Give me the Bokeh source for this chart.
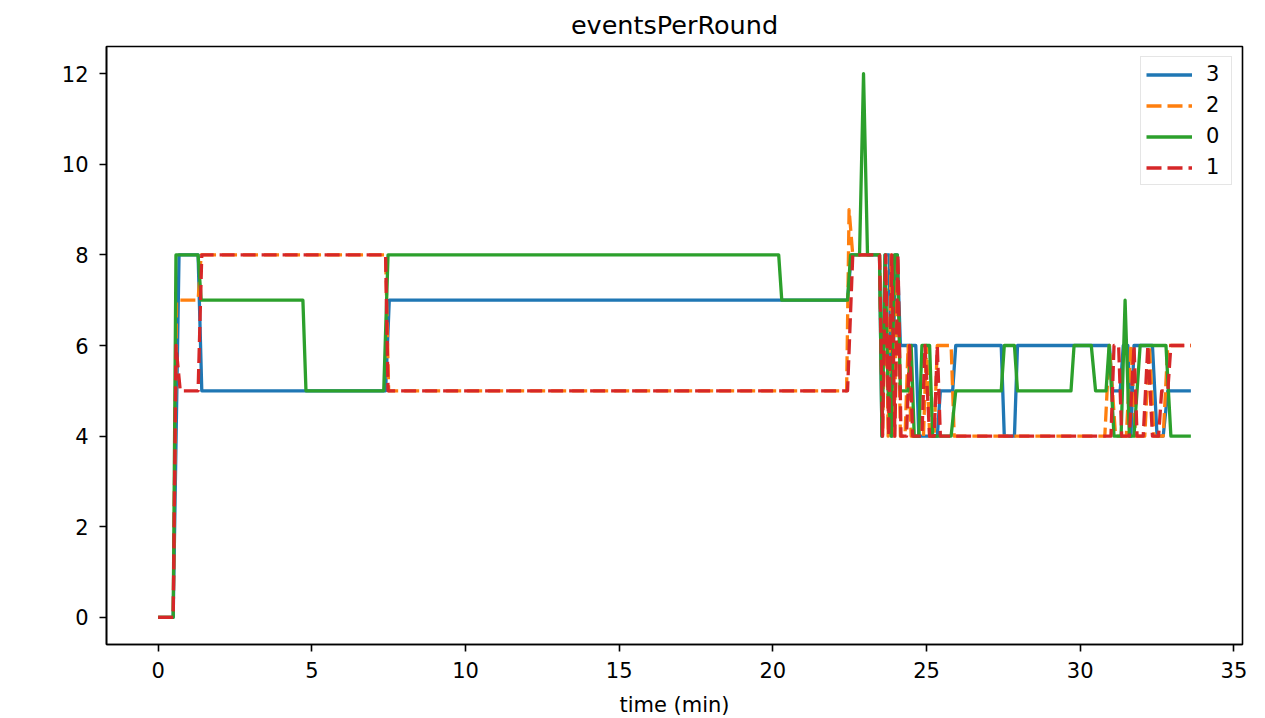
from bokeh.plotting import figure
from bokeh.models import Range1d, Legend, LegendItem, FixedTicker
from bokeh.embed import file_html
from bokeh.resources import INLINE

# series "3"
t3 = [0, 0.49, 0.68, 1.3, 1.42, 7.4, 7.52, 22.43, 22.55, 23.47, 23.55, 23.65, 23.78, 23.88, 23.98,
      24.05, 24.15, 24.65, 24.75, 25.35, 25.45, 25.85, 25.95, 27.43, 27.53, 27.86, 27.96, 30.95, 31.05,
      31.3, 31.4, 31.55, 31.65, 31.75, 32.35, 32.5, 32.7, 32.85, 33.6]
v3 = [0, 0, 8, 8, 5, 5, 7, 7, 8, 8, 4, 8, 8, 4, 8,
      8, 6, 6, 4, 4, 5, 5, 6, 6, 4, 4, 6, 6, 5,
      5, 6, 6, 4, 6, 6, 4, 4, 5, 5]

# series "2"
t2 = [0, 0.49, 0.6, 1.3, 1.4, 7.4, 7.5, 22.4, 22.48, 22.6, 23.47, 23.57, 23.67, 23.75, 23.85, 23.95,
      24.05, 24.15, 24.3, 24.4, 24.5, 24.9, 25.0, 25.1, 25.25, 25.35, 25.8, 25.9, 30.8, 30.95, 31.15,
      31.5, 31.65, 31.8, 32.1, 32.25, 32.4, 32.7, 32.85, 33.6]
v2 = [0, 0, 7, 7, 8, 8, 5, 5, 9, 8, 8, 4, 8, 4, 8, 4,
      8, 4, 4, 6, 4, 4, 6, 4, 4, 6, 6, 4, 4, 6, 4,
      4, 6, 4, 4, 6, 4, 4, 6, 6]

# series "0"
t0 = [0, 0.49, 0.58, 1.3, 1.4, 4.71, 4.81, 7.34, 7.48, 20.19, 20.29, 22.43, 22.53, 22.82, 22.95,
      23.08, 23.47, 23.55, 23.65, 23.75, 23.85, 23.95, 24.05, 24.15, 24.4, 24.5, 24.6, 24.75, 24.85,
      25.1, 25.2, 25.8, 25.95, 27.43, 27.53, 27.86, 27.96, 29.7, 29.8, 30.36, 30.5, 30.84, 30.94,
      31.1, 31.33, 31.46, 31.6, 31.75, 31.95, 32.79, 32.95, 33.6]
v0 = [0, 0, 8, 8, 7, 7, 5, 5, 8, 8, 7, 7, 8, 8, 12,
      8, 8, 4, 8, 5, 4, 8, 8, 5, 5, 6, 4, 4, 6,
      6, 4, 4, 5, 5, 6, 6, 5, 5, 6, 6, 5, 5, 6,
      4, 4, 7, 4, 4, 6, 6, 4, 4]

# series "1"
t1 = [0, 0.49, 0.58, 0.72, 1.3, 1.42, 7.4, 7.48, 22.43, 22.6, 23.47, 23.57, 23.67, 23.77, 23.87,
      23.97, 24.07, 24.17, 24.35, 24.45, 24.55, 24.85, 24.95, 25.1, 25.25, 25.35, 25.45, 31.0, 31.1,
      31.25, 31.35, 31.6, 31.75, 31.85, 32.05, 32.2, 32.35, 32.55, 32.65, 32.85, 32.95, 33.6]
v1 = [0, 0, 6, 5, 5, 8, 8, 5, 5, 8, 8, 4, 8, 4, 8,
      4, 8, 4, 4, 6, 4, 4, 6, 4, 4, 6, 4, 4, 6,
      6, 4, 4, 6, 4, 4, 6, 4, 4, 5, 5, 6, 6]

labels = ["3", "2", "0", "1"]
colors = ["#1f77b4", "#ff7f0e", "#2ca02c", "#d62728"]
dashes = ["solid", "15 6", "solid", "15 6"]
series = [(t3, v3), (t2, v2), (t0, v0), (t1, v1)]

xticks = [0, 5, 10, 15, 20, 25, 30, 35]
yticks = [0, 2, 4, 6, 8, 10, 12]

FONT = "DejaVu Sans"

p = figure(frame_width=1136, frame_height=598,
           x_range=Range1d(-1.68, 35.28), y_range=Range1d(-0.6, 12.6),
           output_backend="svg", toolbar_location=None, title="eventsPerRound",
           min_border_left=106, min_border_top=45, min_border_right=12, min_border_bottom=60)

p.title.align = "center"
p.title.text_font = FONT
p.title.text_font_size = "25.5px"
p.title.text_font_style = "normal"
p.title.text_color = "black"
p.title.standoff = 14

p.xgrid.visible = False
p.ygrid.visible = False
p.outline_line_color = "black"
p.outline_line_width = 1.6
p.outline_line_alpha = 1.0

p.xaxis.ticker = FixedTicker(ticks=xticks)
p.yaxis.ticker = FixedTicker(ticks=yticks)
for ax in (p.xaxis, p.yaxis):
    ax.major_label_text_font = FONT
    ax.major_label_text_font_size = "21px"
    ax.major_label_text_color = "black"
    ax.major_tick_out = 7
    ax.major_tick_in = 0
    ax.minor_tick_out = 0
    ax.minor_tick_in = 0
    ax.major_tick_line_width = 1.6
    ax.major_tick_line_color = "black"
    ax.axis_line_width = 1.6
    ax.axis_line_color = "black"
p.xaxis.major_label_standoff = 10
p.yaxis.major_label_standoff = 11
p.xaxis.axis_label = "time (min)"
p.xaxis.axis_label_text_font = FONT
p.xaxis.axis_label_text_font_size = "21px"
p.xaxis.axis_label_text_font_style = "normal"
p.xaxis.axis_label_text_color = "black"
p.xaxis.axis_label_standoff = 12

items = []
for (t, v), lab, col, dash in zip(series, labels, colors, dashes):
    r = p.line(t, v, line_color=col, line_width=3.3, line_dash=dash, line_join="round")
    items.append(LegendItem(label=lab, renderers=[r]))

legend = Legend(items=items, location="top_right")
legend.label_text_font = FONT
legend.label_text_font_size = "21px"
legend.label_text_color = "black"
legend.glyph_width = 46
legend.glyph_height = 21
legend.label_height = 21
legend.label_standoff = 14
legend.spacing = 7
legend.padding = 5
legend.margin = 10
legend.border_line_color = "#cccccc"
legend.border_line_width = 1.6
legend.background_fill_alpha = 0.8
p.add_layout(legend)

open("out.html", "w").write(file_html(p, INLINE))
